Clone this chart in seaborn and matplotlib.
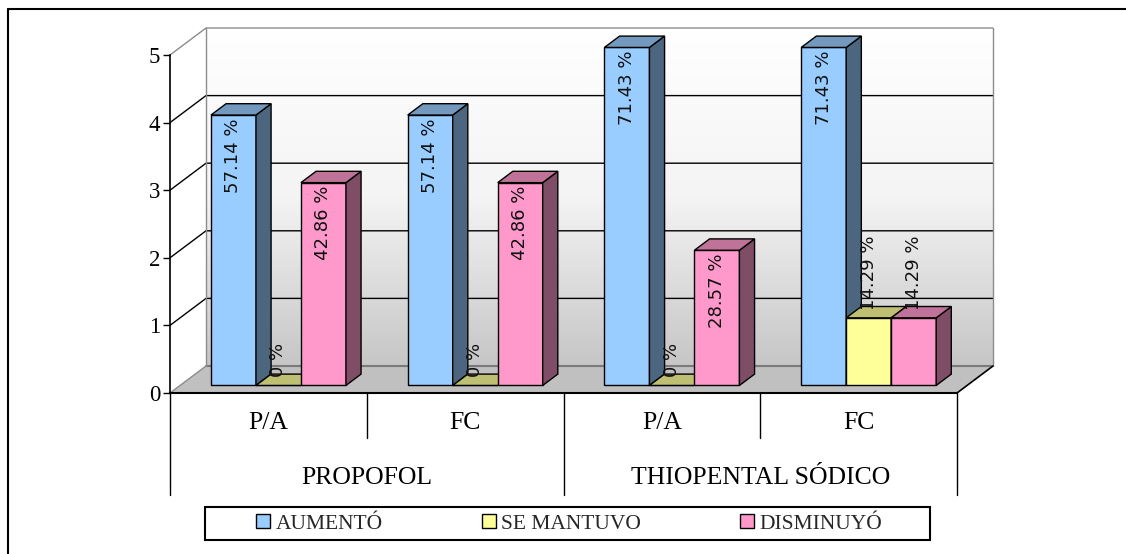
import numpy as np
import pandas as pd
import seaborn as sns
import matplotlib
matplotlib.use("Agg")
import matplotlib.pyplot as plt
import matplotlib.transforms as mtrans
from matplotlib.patches import Polygon, Rectangle, Patch
from matplotlib.lines import Line2D
from matplotlib.colors import LinearSegmentedColormap

# ---------------- data ----------------
groups = ["PROPOFOL", "THIOPENTAL SÓDICO"]
subcats = ["P/A", "FC", "P/A", "FC"]
series = ["AUMENTÓ", "SE MANTUVO", "DISMINUYÓ"]
aumento = [4, 4, 5, 5]
se_mantuvo = [0, 0, 0, 1]
disminuyo = [3, 3, 2, 1]
lbl_aumento = ["57.14 %", "57.14 %", "71.43 %", "71.43 %"]
lbl_mantuvo = ["0 %", "0 %", "0 %", "14.29 %"]
lbl_disminuyo = ["42.86 %", "42.86 %", "28.57 %", "14.29 %"]
yticks = [0, 1, 2, 3, 4, 5]

face_cols = ["#99CCFF", "#FFFF99", "#FF99CC"]
side_cols = ["#4D6680", "#80804D", "#804D66"]
top_cols = ["#7399BF", "#BFBF73", "#BF7399"]

# ---------------- setup ----------------
sns.set_theme(style="white")
plt.rcParams["font.family"] = ["Liberation Serif", "DejaVu Serif"]

W, H, DPI = 1126, 554, 100
fig = plt.figure(figsize=(W / DPI, H / DPI), dpi=DPI)
fig.patch.set_facecolor("white")
ax = fig.add_axes([170 / W, (H - 393) / H, (957 - 170) / W, (393 - 55) / H])
ax.set_facecolor("none")

group_of = [groups[0], groups[0], groups[1], groups[1]]
cat_keys = [f"{g}|{s}" for g, s in zip(group_of, subcats)]
df = pd.DataFrame({
    "cat": cat_keys * 3,
    "serie": np.repeat(series, len(cat_keys)),
    "valor": aumento + se_mantuvo + disminuyo,
})
labels = {s: l for s, l in zip(series, [lbl_aumento, lbl_mantuvo, lbl_disminuyo])}

sns.barplot(data=df, x="cat", y="valor", hue="serie", order=cat_keys,
            hue_order=series, palette=dict(zip(series, face_cols)),
            saturation=1, width=0.686, edgecolor="black", linewidth=1,
            legend=False, ax=ax)

ax.set_xlim(-0.5, 3.5)
ax.set_ylim(0, 5)

# depth vector (36px, 27px) in data units
inv = ax.transData.inverted()
o = ax.transData.transform((0, 0))
ddx, ddy = inv.transform(o + np.array([36.0, 27.0]) * DPI / 100) - inv.transform(o)

F = 0.28   # bar front plane (fraction of depth)
BD = 0.42  # bar depth (fraction of depth)
tb = ax.transData + mtrans.ScaledTranslation(F * 0.36, F * 0.27, fig.dpi_scale_trans)
bdx, bdy = BD * ddx, BD * ddy

# ---------------- walls ----------------
wall_cmap = LinearSegmentedColormap.from_list("wall", ["#FFFFFF", "#F4F4F4", "#C6C6C6"])
ax.imshow(np.linspace(0, 1, 256).reshape(-1, 1), cmap=wall_cmap, aspect="auto",
          extent=(-0.5 + ddx, 3.5 + ddx, ddy, 5 + ddy), zorder=0, clip_on=False)
ax.set_xlim(-0.5, 3.5)
ax.set_ylim(0, 5)

ax.add_patch(Polygon([(-0.5, 0), (3.5, 0), (3.5 + ddx, ddy), (-0.5 + ddx, ddy)],
                     closed=True, facecolor="#C0C0C0", edgecolor="none",
                     zorder=0.5, clip_on=False))

for yv in yticks[1:]:
    col = "#8C8C8C" if yv == yticks[-1] else "black"
    ax.plot([-0.5, -0.5 + ddx, 3.5 + ddx], [yv, yv + ddy, yv + ddy],
            color=col, lw=1, zorder=1, clip_on=False, solid_capstyle="butt")
ax.plot([-0.5 + ddx, 3.5 + ddx], [ddy, ddy], color="#7A7A7A", lw=1.5, zorder=1, clip_on=False)
ax.plot([-0.5 + ddx, -0.5 + ddx], [ddy, 5 + ddy], color="#8C8C8C", lw=1, zorder=1, clip_on=False)
ax.plot([3.5 + ddx, 3.5 + ddx], [ddy, 5 + ddy], color="#8C8C8C", lw=1, zorder=1, clip_on=False)
ax.plot([-0.5, -0.5 + ddx], [0, ddy], color="#8C8C8C", lw=1, zorder=1, clip_on=False)
ax.plot([3.5, 3.5 + ddx], [0, ddy], color="black", lw=1.2, zorder=1, clip_on=False)

# ---------------- 3D bars ----------------
items = []
for j, cont in enumerate(ax.containers):
    for i, bar in enumerate(cont):
        items.append((bar.get_x(), j, i, bar))
items.sort(key=lambda t: t[0])

for k, (x, j, i, bar) in enumerate(items):
    z = 10 + 3 * k
    w = bar.get_width()
    h = bar.get_height()
    bar.set_transform(tb)
    bar.set_clip_on(False)
    bar.set_zorder(z)
    ax.add_patch(Polygon([(x + w, 0), (x + w, h), (x + w + bdx, h + bdy), (x + w + bdx, bdy)],
                         closed=True, facecolor=side_cols[j], edgecolor="black", lw=1,
                         transform=tb, zorder=z + 0.1, clip_on=False))
    ax.add_patch(Polygon([(x, h), (x + w, h), (x + w + bdx, h + bdy), (x + bdx, h + bdy)],
                         closed=True, facecolor=top_cols[j], edgecolor="black", lw=1,
                         transform=tb, zorder=z + 0.2, clip_on=False))
    txt = labels[series[j]][i]
    if h >= 2:
        ax.annotate(txt, xy=(x + w / 2, h), xycoords=tb, xytext=(0, -2.5),
                    textcoords="offset points", rotation=90, ha="center", va="top",
                    fontsize=13, family=["DejaVu Sans"], color="#111111",
                    zorder=z + 0.3, annotation_clip=False)
    else:
        ax.annotate(txt, xy=(x + w / 2, h), xycoords=tb, xytext=(0, 6),
                    textcoords="offset points", rotation=90, ha="center", va="bottom",
                    fontsize=13, family=["DejaVu Sans"], color="#111111",
                    zorder=z + 0.25, annotation_clip=False)

# ---------------- axes ----------------
for s in ["top", "right"]:
    ax.spines[s].set_visible(False)
ax.spines["left"].set_color("black")
ax.spines["left"].set_linewidth(1.2)
ax.spines["bottom"].set_color("black")
ax.spines["bottom"].set_linewidth(1.5)
ax.spines["left"].set_zorder(2)
ax.spines["bottom"].set_zorder(2)
ax.set_yticks(yticks)
ax.set_yticklabels([str(v) for v in yticks])
ax.tick_params(axis="y", left=True, direction="out", length=5, width=1,
               color="black", labelsize=16.5, pad=2, labelcolor="black")
ax.set_xticks([])
ax.set_xlabel("")
ax.set_ylabel("")

# multi-level category axis
bt = mtrans.blended_transform_factory(ax.transData, ax.transAxes)
ax_h = 393 - 55
for xb in [-0.5, 1.5, 3.5]:
    ax.plot([xb, xb], [0, -102 / ax_h], color="black", lw=1, transform=bt, clip_on=False)
for xb in [0.5, 2.5]:
    ax.plot([xb, xb], [0, -45 / ax_h], color="black", lw=1, transform=bt, clip_on=False)
for i, s in enumerate(subcats):
    ax.text(i, -30 / ax_h, s, transform=bt, ha="center", va="center", fontsize=18.5, color="black")
for g_i, g in enumerate(groups):
    ax.text(2 * g_i + 0.5, -85 / ax_h, g, transform=bt, ha="center", va="center",
            fontsize=18.5, color="black")

# ---------------- legend ----------------
handles = [Patch(facecolor=c, edgecolor="black", lw=1) for c in face_cols]
fig.legend(handles, series, loc="center left", bbox_to_anchor=(256 / W, (H - 524) / H),
           ncol=3, frameon=False, fontsize=15.5, handlelength=0.65, handleheight=0.65,
           handletextpad=0.25, columnspacing=4.6, borderpad=0, borderaxespad=0)
fig.add_artist(Rectangle((205 / W, (H - 540) / H), 725 / W, 33 / H, transform=fig.transFigure,
                         fill=False, edgecolor="black", lw=1.5))

# outer frame
fig.add_artist(Line2D([8 / W, 8 / W], [0, (H - 9) / H], color="black", lw=1.5,
                      transform=fig.transFigure))
fig.add_artist(Line2D([8 / W, 1], [(H - 9) / H, (H - 9) / H], color="black", lw=1.5,
                      transform=fig.transFigure))

fig.savefig("out.png", dpi=DPI)
